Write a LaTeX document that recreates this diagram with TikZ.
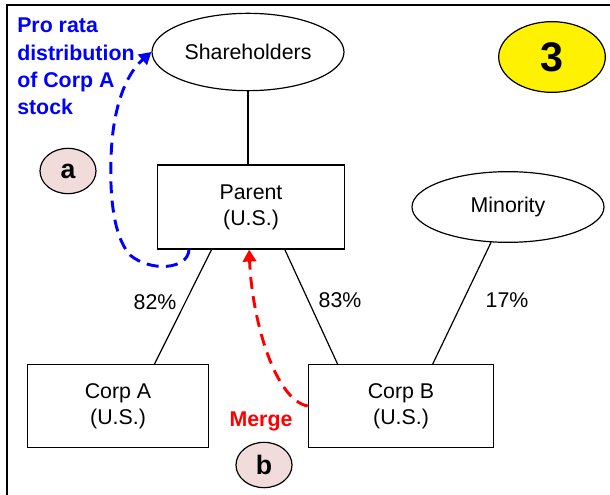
\documentclass[tikz,border=0pt]{standalone}
\usepackage{fontspec}
\setmainfont{Liberation Sans}
\usetikzlibrary{arrows.meta}
\usetikzlibrary{calc}
\usetikzlibrary{positioning}
\usetikzlibrary{shapes.geometric}

\definecolor{tagpink}{RGB}{242,220,219}

\begin{document}
\begin{tikzpicture}[x=0.75pt, y=-0.75pt, font=\fontsize{16}{19.5}\selectfont,
  entity/.style={draw, line width=0.9pt, minimum width=140pt, minimum height=63pt, align=center, inner sep=0pt},
  holder/.style={draw, ellipse, line width=0.9pt, minimum width=144pt, inner sep=0pt},
  tag/.style={draw, ellipse, fill=tagpink, line width=0.9pt, minimum width=42pt, minimum height=34pt, inner sep=0pt, font=\fontsize{20}{20}\selectfont\bfseries},
  link/.style={line width=0.9pt},
  move/.style={line width=2.2pt, dash pattern=on 9pt off 5.5pt, -{Triangle[length=9pt,width=10pt]}},
  note/.style={font=\fontsize{16}{20.5}\selectfont\bfseries}]

\useasboundingbox (0,0) rectangle (610,495);
\draw[line width=2.2pt] (7,495) -- (7,5) -- (611,5);

\node[holder, minimum height=58pt] (Shareholders) at (248,52) {Shareholders};
\node[entity] (Parent) at (251,207) {Parent\\(U.S.)};
\node[holder, minimum height=53pt] (Minority) at (508,207) {Minority};
\node[entity, minimum width=136pt, minimum height=62pt] (CorpA) at (118,406) {Corp A\\(U.S.)};
\node[entity, minimum width=139pt, minimum height=62pt] (CorpB) at (401,406) {Corp B\\(U.S.)};
\node[draw, ellipse, fill=yellow, line width=0.9pt, minimum width=80pt, minimum height=53pt, inner sep=0pt,
  font=\fontsize{31}{31}\selectfont\bfseries] (Step3) at (552,57) {3};

\node (PctA) at (155,302) {82\%};
\node (PctB) at (340,300) {83\%};
\node (PctMin) at (507,300) {17\%};

\node[tag] (TagA) at (68,171) {a};
\node[tag] (TagB) at (264,465) {b};
\node[note, text=blue, align=left, anchor=north west, inner sep=0pt] (Distribution) at (17,18)
  {Pro rata\\distribution\\of Corp A\\stock};
\node[note, text=red] (Merge) at (261,421) {Merge};

% ownership lines
\draw[link] (Shareholders.south) -- (Shareholders.south |- Parent.north);
\draw[link] ($(Parent.south west)!0.29!(Parent.south east)$) -- ($(CorpA.north west)!0.7!(CorpA.north east)$);
\draw[link] ($(Parent.south west)!0.68!(Parent.south east)$) -- ($(CorpB.north west)!0.16!(CorpB.north east)$);
\draw[link] (Minority) -- ($(CorpB.north west)!0.67!(CorpB.north east)$);

% steps
\draw[move, blue] ($(Parent.south west)!0.17!(Parent.south east)$)
  .. controls (188,270) and (150,272) .. (130,255)
  .. controls (112,235) and (110,190) .. (111,160)
  .. controls (112,110) and (125,75) .. (Shareholders.west);
\draw[move, red] (CorpB.west) .. controls (275,400) and (252,320) .. ($(Parent.south west)!0.49!(Parent.south east)$);

\end{tikzpicture}
\end{document}
